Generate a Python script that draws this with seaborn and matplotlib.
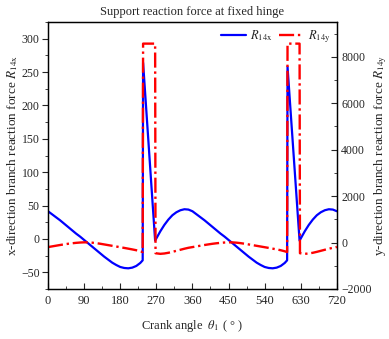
#!/usr/bin/env python3

import numpy as np
import matplotlib
matplotlib.use('Agg')
import matplotlib.pyplot as plt
from matplotlib.ticker import MultipleLocator
import pandas as pd
import seaborn as sns

SET_DPI = 100
FIGSIZE = (3.89, 3.39)

# crank angle / R14x (left axis)
theta_x = [0, 10, 20, 30, 40, 50, 60, 70, 80, 90, 100, 110, 120, 130, 140,
           150, 160, 170, 180, 190, 200, 210, 220, 230, 236, 237, 267, 280,
           290, 300, 310, 320, 330, 340, 350, 360, 370, 380, 390, 400, 410,
           420, 430, 440, 450, 460, 470, 480, 490, 500, 510, 520, 530, 540,
           550, 560, 570, 580, 590, 596, 597, 627, 640, 650, 660, 670, 680,
           690, 700, 710, 720]
r14x = [41.5, 37, 32.5, 28, 23, 18, 13, 8, 3.5, -1.5, -6.5, -11.5, -16.5,
        -21.5, -26.5, -31, -35.5, -39, -42, -43.5, -44, -43, -40.5, -36, -32,
        264, -2.5, 11.5, 21, 29, 35.5, 40, 43, 44.5, 44, 41.5, 37, 32.5, 28,
        23, 18, 13, 8, 3.5, -1.5, -6.5, -11.5, -16.5, -21.5, -26.5, -31,
        -35.5, -39, -42, -43.5, -44, -43, -40.5, -36, -32, 258, -2.5, 11.5,
        21, 29, 35.5, 40, 43, 44.5, 44, 41.5]

# crank angle / R14y (right axis)
theta_y = [0, 10, 20, 30, 40, 50, 60, 70, 80, 90, 100, 110, 120, 130, 140,
           150, 160, 170, 180, 190, 200, 210, 220, 230, 236, 237, 267, 268,
           280, 290, 300, 310, 320, 330, 340, 350, 360, 370, 380, 390, 400,
           410, 420, 430, 440, 450, 460, 470, 480, 490, 500, 510, 520, 530,
           540, 550, 560, 570, 580, 590, 596, 597, 627, 628, 640, 650, 660,
           670, 680, 690, 700, 710, 720]
r14y = [-195, -165, -135, -105, -78, -52, -30, -12, 2, 10, 8, -5, -25, -50,
        -80, -110, -140, -170, -200, -230, -262, -295, -330, -375, -410,
        8570, 8570, -460, -485, -470, -440, -400, -355, -310, -265, -225,
        -195, -165, -135, -105, -78, -52, -30, -12, 2, 10, 8, -5, -25, -50,
        -80, -110, -140, -170, -200, -230, -262, -295, -330, -375, -410,
        8570, 8570, -460, -485, -470, -440, -400, -355, -310, -265, -225,
        -190]

df_x = pd.DataFrame({'theta': theta_x, 'R14x': r14x})
df_y = pd.DataFrame({'theta': theta_y, 'R14y': r14y})

sns.set_style('ticks')
plt.rcParams['font.family'] = ['Liberation Serif', 'DejaVu Serif']
plt.rcParams['mathtext.fontset'] = 'stix'
plt.rcParams['font.size'] = 9

fig = plt.figure(figsize=FIGSIZE, dpi=SET_DPI)
ax = fig.add_axes([0.1234, 0.1475, 0.7426, 0.7875])
ax2 = ax.twinx()

sns.lineplot(data=df_x, x='theta', y='R14x', ax=ax, color='#0000ff',
             linewidth=1.6, sort=False, estimator=None, label=None)
sns.lineplot(data=df_y, x='theta', y='R14y', ax=ax2, color='#ff0000',
             linewidth=1.7, linestyle='-.', sort=False, estimator=None,
             label=None)

ax.set_xlim(0, 720)
ax.set_ylim(-75, 325)
ax2.set_ylim(-2000, 9500)
ax.xaxis.set_major_locator(MultipleLocator(90))
ax.xaxis.set_minor_locator(MultipleLocator(45))
ax.yaxis.set_major_locator(MultipleLocator(50))
ax.yaxis.set_minor_locator(MultipleLocator(25))
ax2.yaxis.set_major_locator(MultipleLocator(2000))
ax2.yaxis.set_minor_locator(MultipleLocator(1000))

ax.tick_params(axis='x', which='both', direction='in', top=False,
               labelsize=9, pad=4)
ax.tick_params(axis='x', which='major', length=4)
ax.tick_params(axis='x', which='minor', length=2)
ax.tick_params(axis='y', which='both', direction='out', labelsize=8.5, pad=2)
ax.tick_params(axis='y', which='major', length=4)
ax.tick_params(axis='y', which='minor', length=2)
ax2.tick_params(axis='y', which='both', direction='in', labelsize=8.5, pad=3)
ax2.tick_params(axis='y', which='major', length=4)
ax2.tick_params(axis='y', which='minor', length=2)

for a in (ax, ax2):
    for sp in a.spines.values():
        sp.set_visible(True)
        sp.set_linewidth(0.9)
        sp.set_color('black')

ax.set_xlabel('Crank angle  $\\theta_1$ ( ° )', fontsize=9, labelpad=8)
ax.set_ylabel('x-direction branch reaction force $R_{\\rm 14x}$', fontsize=9.5)
ax2.set_ylabel('y-direction branch reaction force $R_{\\rm 14y}$', fontsize=9.5)
ax.yaxis.set_label_coords(-0.098, 0.5)
ax2.yaxis.set_label_coords(1.122, 0.5)
ax.set_title('Support reaction force at fixed hinge', fontsize=9, pad=5)

h1 = ax.get_lines()[0]
h2 = ax2.get_lines()[0]
ax.legend([h1, h2], ['$R_{\\rm 14x}$', '$R_{\\rm 14y}$'], loc='upper right',
          ncol=2, frameon=False, fontsize=9, handlelength=2.0,
          columnspacing=0.5, handletextpad=0.3, borderaxespad=0.1)
if ax2.get_legend() is not None:
    ax2.get_legend().remove()

fig.savefig('out.png', dpi=SET_DPI)
